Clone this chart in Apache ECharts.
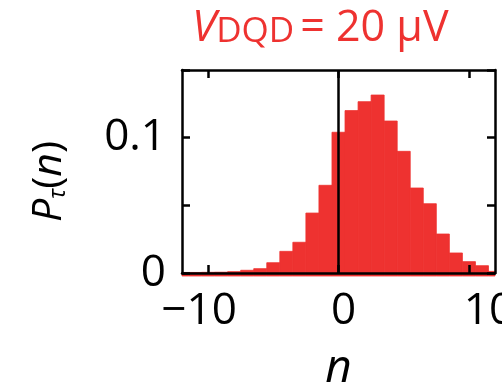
<!DOCTYPE html>
<html>
<head>
<meta charset="utf-8">
<script src="https://cdn.jsdelivr.net/npm/echarts@6/dist/echarts.min.js"></script>
<style>
html, body { margin: 0; padding: 0; background: #fff; }
#chart { width: 502px; height: 383px; }
</style>
</head>
<body>
<div id="chart"></div>
<script>
// histogram P_tau(n), bins centred on integer n
const nValues = [-12, -11, -10, -9, -8, -7, -6, -5, -4, -3, -2, -1, 0, 1, 2, 3, 4, 5, 6, 7, 8, 9, 10, 11, 12]
const probs = [0.0004, 0.0004, 0.0005, 0.0006, 0.001, 0.002, 0.0032, 0.0076, 0.016, 0.0227, 0.0443, 0.0648,
  0.104, 0.120, 0.1266, 0.1315, 0.1123, 0.0899, 0.0628, 0.0512, 0.0288, 0.0148, 0.0084, 0.0054, 0.0012]
const xTicks = [-10, 0, 10]
const xTickLabels = ['\u221210', '0', '10']
const yTicks = [0, 0.05, 0.1, 0.15]
const yTickLabels = ['0', '', '0.1', '']

const red = '#EE3230'
const font = 'Open Sans'

const histData = nValues.map((n, i) => [n, probs[i]])

const myChart = echarts.init(document.getElementById('chart'))

function renderBar (params, api) {
  const n = api.value(0)
  const p = api.value(1)
  const topLeft = api.coord([n - 0.5, p])
  const botRight = api.coord([n + 0.5, 0])
  const rect = echarts.graphic.clipRectByRect({
    x: topLeft[0],
    y: topLeft[1],
    width: botRight[0] - topLeft[0],
    height: botRight[1] - topLeft[1] + 3
  }, {
    x: params.coordSys.x,
    y: params.coordSys.y,
    width: params.coordSys.width,
    height: params.coordSys.height + 3
  })
  return rect && {
    type: 'rect',
    shape: rect,
    style: { fill: red, stroke: red, lineWidth: 0.8 }
  }
}

const shift = { '\u221210': [0, 18, 0, 0], '0': [0, 0, 0, 10], '10': [0, 0, 0, 40] }
const xLabelRich = {}
xTickLabels.forEach((t, i) => {
  xLabelRich['l' + i] = { fontSize: 44, fontFamily: font, color: '#000', padding: shift[t] }
})

const frameLine = { show: true, onZero: false, lineStyle: { color: '#000', width: 2.5 } }
const tickStyle = { lineStyle: { color: '#000', width: 2.5 } }

myChart.setOption({
  animation: false,
  backgroundColor: '#fff',
  title: {
    text: '{v|V}{s|DQD}{r|= 20 \u03bcV}',
    left: 187,
    top: -5,
    textStyle: {
      fontWeight: 'normal',
      rich: {
        v: { fontSize: 44, fontFamily: font, fontStyle: 'italic', fontWeight: 'normal', color: red, lineHeight: 50, verticalAlign: 'bottom' },
        s: { fontSize: 35, fontFamily: font, fontWeight: 'normal', color: red, lineHeight: 26, verticalAlign: 'bottom' },
        r: { fontSize: 43, fontFamily: font, fontWeight: 'normal', color: red, lineHeight: 50, verticalAlign: 'bottom', padding: [0, 0, 0, 6] }
      }
    }
  },
  grid: { left: 182, right: 7, top: 70, bottom: 110, containLabel: false, outerBoundsMode: 'none' },
  xAxis: [
    {
      type: 'value',
      min: -12,
      max: 12,
      z: 5,
      name: 'n',
      nameLocation: 'middle',
      nameGap: 73,
      nameMoveOverlap: false,
      nameTextStyle: { fontSize: 46, fontFamily: font, fontStyle: 'italic', color: '#000' },
      axisLine: frameLine,
      axisTick: { show: true, inside: true, length: 8, customValues: xTicks, ...tickStyle },
      axisLabel: {
        customValues: xTicks,
        margin: 16,
        formatter: v => '{l' + xTicks.indexOf(v) + '|' + xTickLabels[xTicks.indexOf(v)] + '}',
        rich: xLabelRich
      },
      splitLine: { show: false }
    },
    {
      type: 'value',
      position: 'top',
      min: -12,
      max: 12,
      z: 5,
      axisLine: frameLine,
      axisTick: { show: true, inside: true, length: 8, customValues: xTicks, ...tickStyle },
      axisLabel: { show: false },
      splitLine: { show: false }
    }
  ],
  yAxis: [
    {
      type: 'value',
      min: 0,
      max: 0.15,
      interval: 0.05,
      z: 5,
      name: '{p|P}{s|\u03c4}{t|(}{i|n}{t|)}',
      nameLocation: 'middle',
      nameRotate: 90,
      nameGap: 112,
      nameMoveOverlap: false,
      nameTextStyle: {
        padding: [0, 20, 0, 0],
        rich: {
          p: { fontSize: 41, fontFamily: font, fontStyle: 'italic', color: '#000', lineHeight: 48, verticalAlign: 'bottom' },
          s: { fontSize: 24, fontFamily: font, fontStyle: 'italic', color: '#000', lineHeight: 20, verticalAlign: 'bottom' },
          t: { fontSize: 41, fontFamily: font, color: '#000', lineHeight: 48, verticalAlign: 'bottom' },
          i: { fontSize: 41, fontFamily: font, fontStyle: 'italic', color: '#000', lineHeight: 48, verticalAlign: 'bottom' }
        }
      },
      axisLine: frameLine,
      axisTick: { show: true, inside: true, length: 8, ...tickStyle },
      axisLabel: {
        fontSize: 44,
        fontFamily: font,
        color: '#000',
        margin: 16,
        formatter: v => {
          const i = yTicks.findIndex(t => Math.abs(t - v) < 1e-9)
          return i >= 0 ? yTickLabels[i] : ''
        }
      },
      splitLine: { show: false }
    },
    {
      type: 'value',
      position: 'right',
      min: 0,
      max: 0.15,
      interval: 0.05,
      z: 5,
      axisLine: frameLine,
      axisTick: { show: true, inside: true, length: 8, ...tickStyle },
      axisLabel: { show: false },
      splitLine: { show: false }
    }
  ],
  series: [
    {
      type: 'custom',
      renderItem: renderBar,
      clip: false,
      z: 1,
      data: histData
    },
    {
      type: 'line',
      z: 4,
      symbol: 'none',
      lineStyle: { color: '#000', width: 2.5 },
      data: [[0, 0], [0, 0.15]]
    }
  ]
})
</script>
</body>
</html>
